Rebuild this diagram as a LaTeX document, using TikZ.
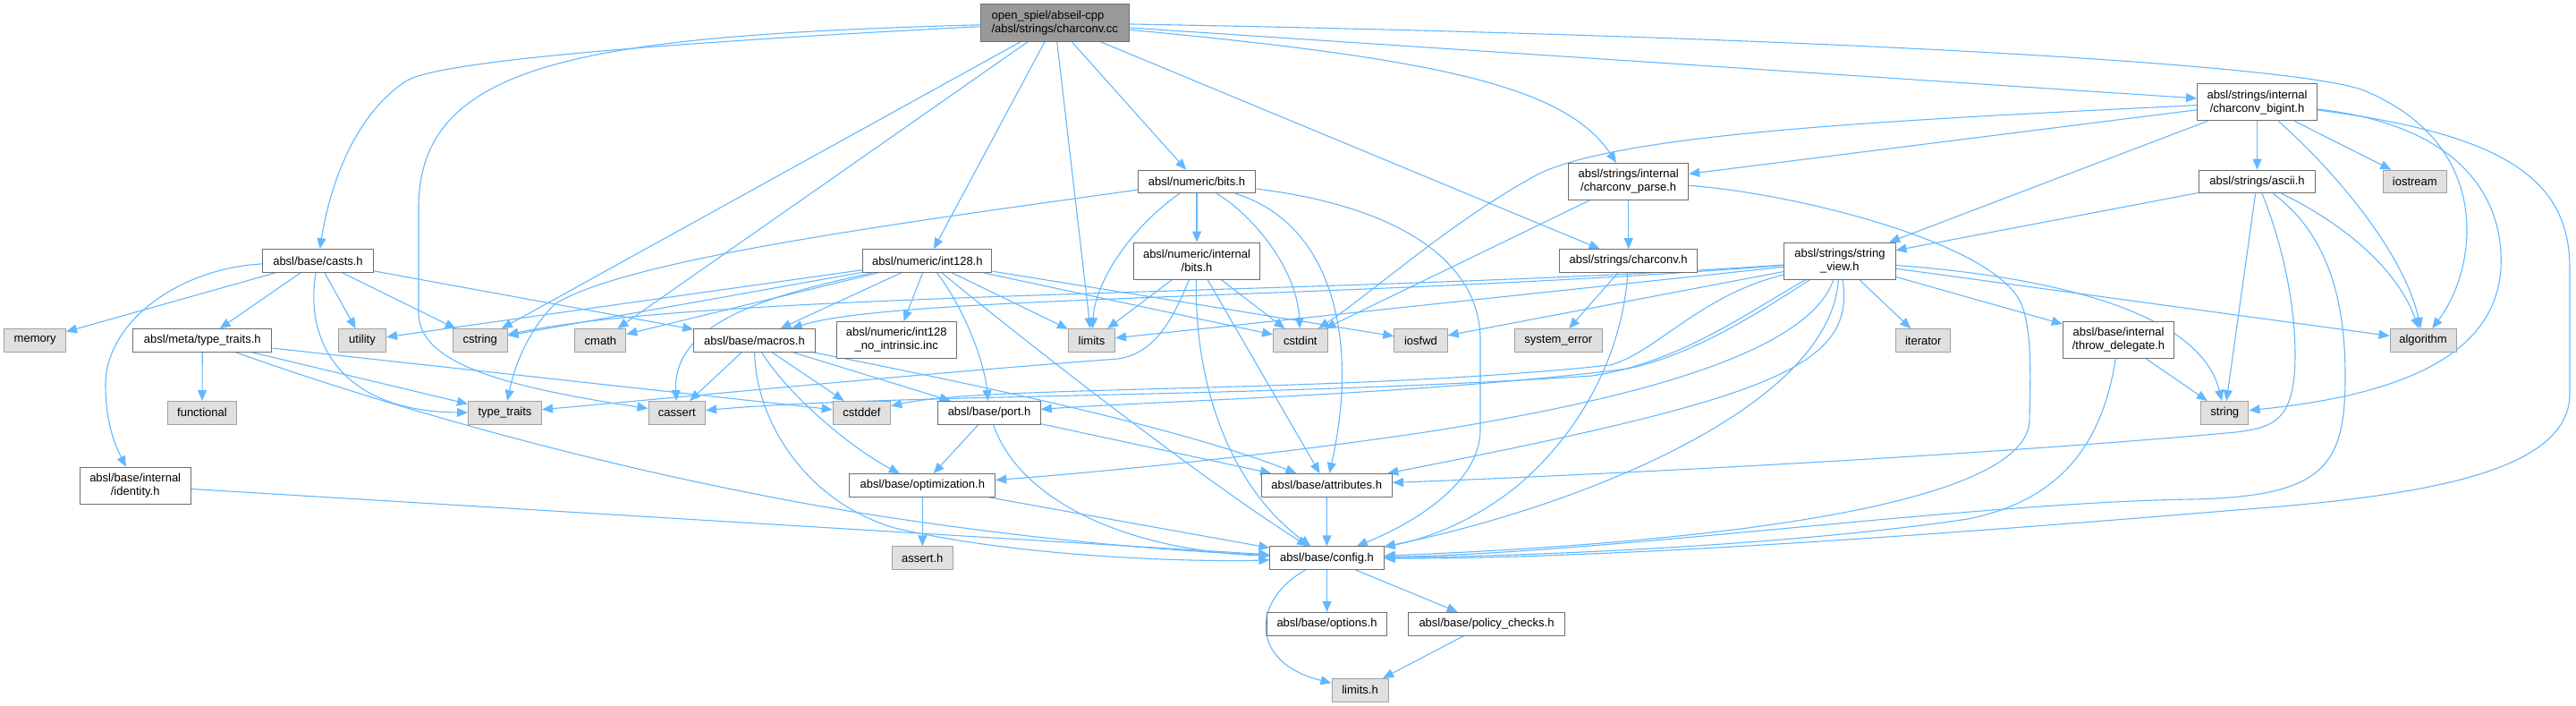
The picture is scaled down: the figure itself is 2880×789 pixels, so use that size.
\documentclass[tikz,border=0pt]{standalone}
\usepackage{fontspec}
\setmainfont{Liberation Sans}
\usetikzlibrary{arrows.meta}
\pgfdeclarelayer{bg}
\pgfsetlayers{bg,main}
\definecolor{edgec}{RGB}{99,184,255}
\definecolor{wborder}{RGB}{110,110,110}
\definecolor{gfill}{RGB}{224,224,224}
\definecolor{gborder}{RGB}{160,160,160}
\definecolor{topfill}{RGB}{153,153,153}
\begin{document}
\begin{tikzpicture}[x=1pt,y=-1pt,
  base/.style={draw, line width=1pt, inner sep=0pt, minimum height=25.7pt,
    font=\fontsize{13}{15}\selectfont, align=center},
  wn/.style={base, draw=wborder, fill=white},
  gn/.style={base, draw=gborder, fill=gfill},
  tn/.style={base, draw=wborder, fill=topfill, align=left, minimum height=41.7pt},
  two/.style={minimum height=41pt},
  e/.style={draw=edgec, line width=1.1pt, -{Triangle[length=12pt,width=10pt]}}
]
\useasboundingbox (0,0) rectangle (2880,789);
% ---------- nodes ----------
\node[tn, minimum width=166.5pt] (cc) at (1179.3,25.5) {open\_spiel/abseil-cpp\\/absl/strings/charconv.cc};
\node[wn, two, minimum width=134pt] (bigint) at (2523.5,114.3) {absl/strings/internal\\/charconv\_bigint.h};
\node[wn, minimum width=131.7pt] (bits) at (1338,203) {absl/numeric/bits.h};
\node[wn, two, minimum width=134pt] (parse) at (1820.7,202.8) {absl/strings/internal\\/charconv\_parse.h};
\node[wn, minimum width=130.5pt] (ascii) at (2523.5,203) {absl/strings/ascii.h};
\node[gn, minimum width=71.6pt] (iostream) at (2699.8,203) {iostream};
\node[wn, minimum width=124.3pt] (casts) at (355.5,291.5) {absl/base/casts.h};
\node[wn, minimum width=144pt] (int128) at (1036.8,291.5) {absl/numeric/int128.h};
\node[wn, two, minimum width=141.4pt] (ibits) at (1338,291.7) {absl/numeric/internal\\/bits.h};
\node[wn, minimum width=153.7pt] (charconvh) at (1820.7,291.5) {absl/strings/charconv.h};
\node[wn, two, minimum width=124.3pt] (sv) at (2056.9,291.7) {absl/strings/string\\\_view.h};
\node[gn, minimum width=68.6pt] (memory) at (39.2,380.5) {memory};
\node[wn, minimum width=155pt] (metatt) at (226.3,380.5) {absl/meta/type\_traits.h};
\node[gn, minimum width=53.3pt] (utility) at (405,380.5) {utility};
\node[gn, minimum width=60.6pt] (cstring) at (536.7,380.5) {cstring};
\node[gn, minimum width=57pt] (cmath) at (671.4,380.5) {cmath};
\node[wn, minimum width=135.4pt] (macros) at (843.4,380.5) {absl/base/macros.h};
\node[wn, two, minimum width=134.3pt] (nointr) at (1002.2,380) {absl/numeric/int128\\\_no\_intrinsic.inc};
\node[gn, minimum width=52pt] (limits) at (1220.5,380.5) {limits};
\node[gn, minimum width=60.6pt] (cstdint) at (1453.8,380.5) {cstdint};
\node[gn, minimum width=59.4pt] (iosfwd) at (1588.5,380.5) {iosfwd};
\node[gn, minimum width=97.4pt] (syserr) at (1742.3,380.5) {system\_error};
\node[gn, minimum width=61.3pt] (iterator) at (2150.3,380.5) {iterator};
\node[wn, two, minimum width=124.3pt] (throwd) at (2368.5,379.8) {absl/base/internal\\/throw\_delegate.h};
\node[gn, minimum width=74pt] (algorithm) at (2709,380.5) {algorithm};
\node[gn, minimum width=77pt] (functional) at (226,461.3) {functional};
\node[gn, minimum width=82pt] (typetraits) at (564.5,461.3) {type\_traits};
\node[gn, minimum width=63.6pt] (cassert) at (756.8,461.3) {cassert};
\node[gn, minimum width=64.5pt] (cstddef) at (963.4,461.3) {cstddef};
\node[wn, minimum width=114.5pt] (port) at (1106,461.3) {absl/base/port.h};
\node[gn, minimum width=53.3pt] (string) at (2487.3,461.3) {string};
\node[wn, two, minimum width=123.7pt] (identity) at (151.2,542.7) {absl/base/internal\\/identity.h};
\node[wn, minimum width=162.7pt] (optim) at (1031.3,542.5) {absl/base/optimization.h};
\node[wn, minimum width=146.4pt] (attrib) at (1483.2,542.3) {absl/base/attributes.h};
\node[gn, minimum width=68pt] (assert) at (1031.3,623.7) {assert.h};
\node[wn, minimum width=127.3pt] (config) at (1483.5,623.7) {absl/base/config.h};
\node[wn, minimum width=134.7pt] (options) at (1483.5,697.3) {absl/base/options.h};
\node[wn, minimum width=175.7pt] (policy) at (1662,697.3) {absl/base/policy\_checks.h};
\node[gn, minimum width=63pt] (limitsh) at (1520.5,771.3) {limits.h};
% ---------- edges ----------
\begin{pgfonlayer}{bg}
% charconv.cc
\draw[e] (cc) .. controls (700,50) and (490,70) .. (455,90) .. controls (400,125) and (370,200) .. (casts);
\draw[e] (cc) .. controls (650,40) and (470,70) .. (468,230) -- (468,350) .. controls (468,405) and (560,432) .. (cassert);
\draw[e] (cc) -- (cstring);
\draw[e] (cc) -- (cmath);
\draw[e] (cc) -- (int128);
\draw[e] (cc) -- (limits);
\draw[e] (cc) -- (bits);
\draw[e] (cc) -- (charconvh);
\draw[e] (cc) .. controls (1600,65) and (1750,95) .. (parse);
\draw[e] (cc) -- (bigint);
\draw[e] (cc) .. controls (2000,40) and (2550,70) .. (2640,100) .. controls (2790,160) and (2770,300) .. (algorithm);
% casts
\draw[e] (casts) -- (memory);
\draw[e] (casts) -- (metatt);
\draw[e] (casts) -- (utility);
\draw[e] (casts) -- (cstring);
\draw[e] (casts) -- (macros);
\draw[e] (casts) .. controls (200,300) and (118,360) .. (118,430) .. controls (118,475) and (130,500) .. (identity);
\draw[e] (casts) .. controls (340,380) and (380,460) .. (typetraits);
% meta/type_traits
\draw[e] (metatt) -- (functional);
\draw[e] (metatt) -- (typetraits);
\draw[e] (metatt) -- (cstddef);
\draw[e] (metatt) .. controls (450,460) and (700,530) .. (960,573) .. controls (1150,603) and (1300,615) .. (config);
\draw[e] (identity) -- (config);
% int128
\draw[e] (int128) -- (utility);
\draw[e] (int128) -- (cstring);
\draw[e] (int128) -- (cmath);
\draw[e] (int128) .. controls (860,330) and (752,360) .. (cassert);
\draw[e] (int128) -- (macros);
\draw[e] (int128) -- (nointr);
\draw[e] (int128) .. controls (1075,340) and (1100,400) .. (port);
\draw[e] (int128) -- (limits);
\draw[e] (int128) -- (cstdint);
\draw[e] (int128) -- (iosfwd);
\draw[e] (int128) .. controls (1150,385) and (1350,540) .. (config);
% numeric/bits
\draw[e] (bits) .. controls (1000,250) and (700,290) .. (620,340) .. controls (590,370) and (575,410) .. (typetraits);
\draw[e] (bits) .. controls (1270,250) and (1225,310) .. (limits);
\draw[e] (bits) -- (ibits);
\draw[e] (bits) .. controls (1400,240) and (1450,300) .. (cstdint);
\draw[e] (bits) .. controls (1490,250) and (1520,380) .. (attrib);
\draw[e] (bits) .. controls (1560,230) and (1655,290) .. (1655,380) -- (1655,480) .. controls (1655,540) and (1580,585) .. (config);
% numeric/internal/bits
\draw[e] (ibits) -- (limits);
\draw[e] (ibits) .. controls (1310,360) and (1290,395) .. (1250,401) .. controls (1000,420) and (750,445) .. (typetraits);
\draw[e] (ibits) .. controls (1335,420) and (1370,540) .. (config);
\draw[e] (ibits) -- (attrib);
\draw[e] (ibits) -- (cstdint);
% macros
\draw[e] (macros) -- (cstddef);
\draw[e] (macros) -- (cassert);
\draw[e] (macros) -- (port);
\draw[e] (macros) .. controls (880,440) and (950,500) .. (optim);
\draw[e] (macros) .. controls (1000,412) and (1300,470) .. (attrib);
\draw[e] (macros) .. controls (845,470) and (900,560) .. (1000,590) .. controls (1150,625) and (1350,628) .. (config);
% port
\draw[e] (port) -- (optim);
\draw[e] (port) -- (attrib);
\draw[e] (port) .. controls (1140,560) and (1260,615) .. (config);
% optimization, attributes, config
\draw[e] (optim) -- (assert);
\draw[e] (optim) -- (config);
\draw[e] (attrib) -- (config);
\draw[e] (config) -- (options);
\draw[e] (config) -- (policy);
\draw[e] (config) .. controls (1400,670) and (1395,740) .. (limitsh);
\draw[e] (policy) -- (limitsh);
% string_view
\draw[e] (sv) .. controls (1500,330) and (800,325) .. (cstring);
\draw[e] (sv) .. controls (1500,335) and (1000,330) .. (macros);
\draw[e] (sv) -- (limits);
\draw[e] (sv) -- (iosfwd);
\draw[e] (sv) .. controls (1900,330) and (1850,395) .. (1800,408) .. controls (1500,440) and (1100,430) .. (cstddef);
\draw[e] (sv) .. controls (1980,340) and (1900,395) .. (1820,412) .. controls (1600,440) and (1300,448) .. (port);
\draw[e] (sv) .. controls (1960,345) and (1880,405) .. (1780,420) .. controls (1400,445) and (1000,440) .. (cassert);
\draw[e] (sv) .. controls (2020,400) and (1800,450) .. (1600,482) .. controls (1400,512) and (1200,530) .. (optim);
\draw[e] (sv) .. controls (2075,410) and (1980,445) .. (attrib);
\draw[e] (sv) .. controls (2045,460) and (1750,570) .. (config);
\draw[e] (sv) -- (iterator);
\draw[e] (sv) -- (throwd);
\draw[e] (sv) -- (algorithm);
\draw[e] (sv) .. controls (2300,310) and (2460,350) .. (string);
% throw_delegate
\draw[e] (throwd) -- (string);
\draw[e] (throwd) .. controls (2350,500) and (2300,560) .. (2200,580) .. controls (2000,610) and (1700,622) .. (config);
% ascii
\draw[e] (ascii) -- (sv);
\draw[e] (ascii) -- (string);
\draw[e] (ascii) .. controls (2620,250) and (2680,300) .. (algorithm);
\draw[e] (ascii) .. controls (2555,280) and (2570,360) .. (2565,420) .. controls (2560,470) and (2540,478) .. (2500,483) .. controls (2200,510) and (1800,530) .. (attrib);
\draw[e] (ascii) .. controls (2600,260) and (2622,330) .. (2622,420) .. controls (2622,520) and (2600,555) .. (2450,558) .. controls (2200,562) and (1800,618) .. (config);
% charconv_bigint
\draw[e] (bigint) -- (parse);
\draw[e] (bigint) .. controls (2100,135) and (1790,150) .. (1710,200) .. controls (1620,250) and (1530,330) .. (cstdint);
\draw[e] (bigint) -- (sv);
\draw[e] (bigint) -- (ascii);
\draw[e] (bigint) -- (iostream);
\draw[e] (bigint) .. controls (2620,200) and (2690,290) .. (algorithm);
\draw[e] (bigint) .. controls (2750,140) and (2800,220) .. (2796,300) .. controls (2790,390) and (2700,440) .. (string);
\draw[e] (bigint) .. controls (2800,150) and (2873,200) .. (2873,300) -- (2873,440) .. controls (2873,530) and (2700,555) .. (2500,570) .. controls (2200,595) and (1800,625) .. (config);
% charconv_parse
\draw[e] (parse) -- (charconvh);
\draw[e] (parse) -- (cstdint);
\draw[e] (parse) .. controls (2000,215) and (2230,270) .. (2260,340) .. controls (2272,370) and (2270,420) .. (2269,470) .. controls (2266,560) and (1950,605) .. (config);
% charconv.h
\draw[e] (charconvh) -- (syserr);
\draw[e] (charconvh) .. controls (1815,380) and (1780,470) .. (1700,540) .. controls (1640,590) and (1580,605) .. (config);
\end{pgfonlayer}
\end{tikzpicture}
\end{document}
